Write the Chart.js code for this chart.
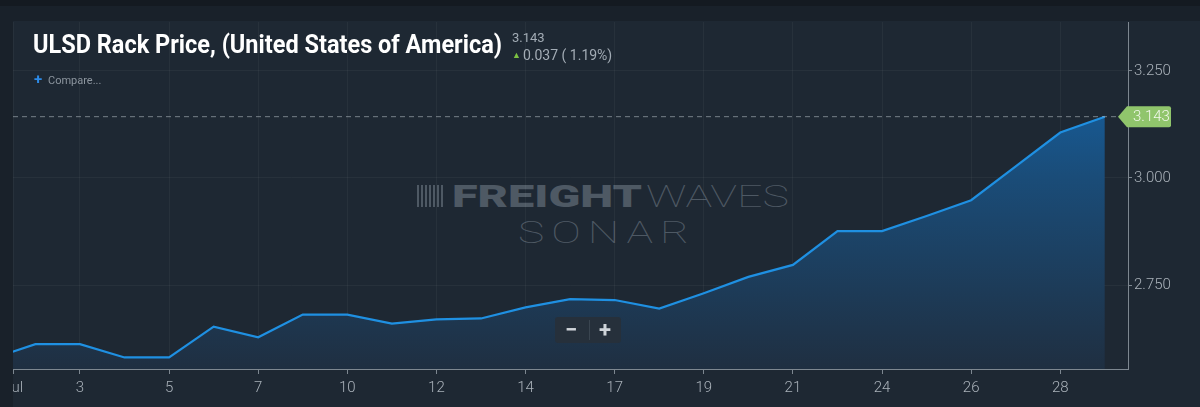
<!DOCTYPE html>
<html>
<head>
<meta charset="utf-8">
<script src="https://cdn.jsdelivr.net/npm/chart.js@4"></script>
<style>
  html, body { margin: 0; padding: 0; }
  body { width: 1200px; height: 407px; background: #19212a; position: relative; overflow: hidden; font-family: Roboto, sans-serif; }
  .topband { position: absolute; left: 0; top: 0; width: 1200px; height: 6px; background: #141a21; }
  .panel { position: absolute; left: 13px; top: 21px; width: 1187px; height: 386px; background: #1e2833; }
  .abs { position: absolute; white-space: nowrap; line-height: 1; transform-origin: 0 0; }
  #title { left: 33px; top: 31px; font-size: 26px; font-weight: 700; color: #ffffff; }
  #last { left: 512px; top: 31px; font-size: 13px; color: #a3acb5; }
  #chg { left: 512px; top: 48px; font-size: 14px; color: #a3acb5; }
  #chg .arr { color: #7cc242; font-size: 9px; position: relative; top: -2px; margin-right: 2px; }
  #cmpPlus { left: 34px; top: 72px; font-size: 15px; font-weight: 700; color: #2d8ae6; }
  #cmp { left: 48px; top: 75px; font-size: 11px; color: #8c959e; }
  .wm { color: #4e5964; }
  #wmIcon { left: 417px; top: 185px; width: 26px; height: 22px;
    background: repeating-linear-gradient(90deg, #4e5964 0 2px, transparent 2px 4px); }
  #wmF { left: 452px; top: 181px; font-size: 31px; font-weight: 900; }
  #wmW { left: 646px; top: 181px; font-size: 31px; font-weight: 100; }
  #wmS { left: 518px; top: 216px; font-size: 32px; font-weight: 100; letter-spacing: 5px; }
  #chartBox { position: absolute; left: 13px; top: 21px; width: 1187px; height: 386px; }
  #zoomBtns { position: absolute; left: 555px; top: 317px; width: 66px; height: 26px; background: #26303b; border-radius: 3px; }
  #zoomBtns span { position: absolute; top: 1px; font-size: 22px; font-weight: 700; color: #cfd4d9; line-height: 24px; }
  #zoomBtns .sep { position: absolute; left: 34px; top: 3px; width: 1px; height: 20px; background: #3a4550; }
</style>
</head>
<body>
<div class="topband"></div>
<div class="panel"></div>
<div id="wmIcon" class="abs"></div>
<div id="wmF" class="abs wm">FREIGHT</div>
<div id="wmW" class="abs wm">WAVES</div>
<div id="wmS" class="abs wm">SONAR</div>
<div id="chartBox"><canvas id="chart"></canvas></div>
<div id="title" class="abs">ULSD Rack Price, (United States of America)</div>
<div id="last" class="abs">3.143</div>
<div id="chg" class="abs"><span class="arr">&#9650;</span>0.037 ( 1.19%)</div>
<div id="cmpPlus" class="abs">+</div>
<div id="cmp" class="abs">Compare...</div>
<div id="zoomBtns"><span style="left:10px">&minus;</span><div class="sep"></div><span style="left:44px">+</span></div>

<script>
// dias de cada ponto (30 jun .. 29 jul)
const days = ['30', '1', '3', '4', '5', '6', '7', '8', '10', '11', '12', '13', '14',
              '15', '17', '18', '19', '20', '21', '22', '24', '25', '26', '27', '28', '29'];
const prices = [2.577, 2.612, 2.612, 2.581, 2.581, 2.653, 2.628, 2.681, 2.681, 2.660,
                2.670, 2.672, 2.698, 2.717, 2.715, 2.695, 2.731, 2.769, 2.797, 2.876,
                2.876, 2.911, 2.948, 3.027, 3.106, 3.143];

// rótulos do eixo x (posição em índice de ponto)
const xTickPos = [0.5, 2, 4, 6, 8, 10, 12, 14, 16, 18, 20, 22, 24];
const xTickLabels = ['Jul', '3', '5', '7', '10', '12', '14', '17', '19', '21', '24', '26', '28'];
const yTicks = [2.75, 3.0, 3.25];

// ajustar largura de textos (fonte condensada não disponível)
function fitWidth(id, target) {
    const el = document.getElementById(id);
    const w = el.getBoundingClientRect().width;
    el.style.transform = 'scaleX(' + (target / w) + ')';
}

const axisColor = '#7d8790';
const tickText = '#aab2ba';

// linha tracejada + etiqueta do último valor
const lastValuePlugin = {
    id: 'lastValue',
    afterDraw(chart) {
        const ctx = chart.ctx;
        const area = chart.chartArea;
        const v = prices[prices.length - 1];
        const y = chart.scales.y.getPixelForValue(v);
        const tip = area.right - 10;
        ctx.save();
        ctx.strokeStyle = 'rgba(190,198,205,0.55)';
        ctx.lineWidth = 1;
        ctx.setLineDash([5, 4]);
        ctx.beginPath();
        ctx.moveTo(area.left, y);
        ctx.lineTo(tip, y);
        ctx.stroke();
        ctx.setLineDash([]);

        const left = area.right - 1, right = area.right + 43, h = 21;
        ctx.fillStyle = '#90c56c';
        ctx.beginPath();
        ctx.moveTo(tip, y);
        ctx.lineTo(left, y - h / 2);
        ctx.lineTo(right - 2, y - h / 2);
        ctx.quadraticCurveTo(right, y - h / 2, right, y - h / 2 + 2);
        ctx.lineTo(right, y + h / 2 - 2);
        ctx.quadraticCurveTo(right, y + h / 2, right - 2, y + h / 2);
        ctx.lineTo(left, y + h / 2);
        ctx.closePath();
        ctx.fill();

        ctx.fillStyle = '#f2f8ec';
        ctx.font = '300 15px Roboto';
        ctx.textBaseline = 'middle';
        ctx.textAlign = 'left';
        ctx.fillText(v.toFixed(3), area.right + 5, y + 1);
        ctx.restore();
    }
};

document.addEventListener('DOMContentLoaded', function() {
    fitWidth('title', 469);
    fitWidth('wmF', 190);
    fitWidth('wmW', 143);
    fitWidth('wmS', 178);

    Chart.defaults.font.family = 'Roboto';

    const ctx = document.getElementById('chart');
    new Chart(ctx, {
        type: 'line',
        data: {
            datasets: [{
                label: 'ULSD',
                data: prices.map((v, i) => ({ x: i, y: v })),
                borderColor: '#1f90e2',
                borderWidth: 2.2,
                pointRadius: 0,
                tension: 0,
                fill: 'start',
                backgroundColor: function(context) {
                    const area = context.chart.chartArea;
                    if (!area) return 'rgba(22,100,170,0.5)';
                    const g = context.chart.ctx.createLinearGradient(0, area.top, 0, area.bottom);
                    g.addColorStop(0, 'rgba(20,106,180,1)');
                    g.addColorStop(0.45, 'rgba(26,76,120,1)');
                    g.addColorStop(1, 'rgba(31,47,65,1)');
                    return g;
                }
            }]
        },
        options: {
            responsive: true,
            maintainAspectRatio: false,
            animation: false,
            layout: { padding: { top: 1, left: 0, right: 0, bottom: 0 } },
            plugins: {
                legend: { display: false },
                tooltip: { enabled: false }
            },
            scales: {
                x: {
                    type: 'linear',
                    position: 'bottom',
                    min: 0.497,
                    max: 25.52,
                    afterBuildTicks: s => { s.ticks = xTickPos.map(v => ({ value: v })); },
                    afterFit: s => { s.height = 38; s.paddingLeft = 0; s.paddingRight = 0; },
                    ticks: {
                        autoSkip: false,
                        maxRotation: 0,
                        padding: 5,
                        color: tickText,
                        font: { size: 15, weight: 300 },
                        callback: (v, i) => xTickLabels[i]
                    },
                    grid: { color: 'rgba(255,255,255,0.045)', tickLength: 5, tickColor: axisColor },
                    border: { color: axisColor, width: 1 }
                },
                y: {
                    position: 'right',
                    min: 2.554,
                    max: 3.364,
                    afterBuildTicks: s => { s.ticks = yTicks.map(v => ({ value: v })); },
                    afterFit: s => { s.width = 72; s.paddingTop = 0; s.paddingBottom = 0; },
                    ticks: {
                        padding: 2,
                        color: tickText,
                        font: { size: 15, weight: 300 },
                        callback: v => v.toFixed(3)
                    },
                    grid: { color: 'rgba(255,255,255,0.045)', tickLength: 4, tickColor: axisColor },
                    border: { color: axisColor, width: 1 }
                }
            }
        },
        plugins: [lastValuePlugin]
    });
});
</script>
</body>
</html>
